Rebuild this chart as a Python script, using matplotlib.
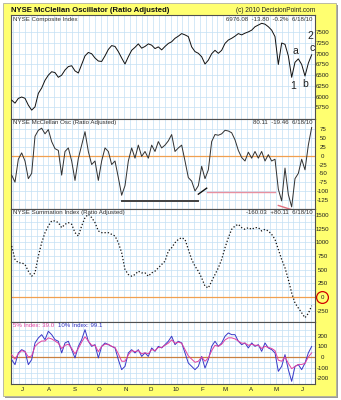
import numpy as np
import matplotlib
matplotlib.use("Agg")
import matplotlib.pyplot as plt
from matplotlib import font_manager
from matplotlib.patches import Rectangle

names = {f.name for f in font_manager.fontManager.ttflist}
FAM = 'Liberation Sans Narrow' if 'Liberation Sans Narrow' in names else 'Liberation Sans'
plt.rcParams['font.family'] = [FAM, 'DejaVu Sans']

# ---------------- data (sampled every 4 calendar days from 2009-06-22) ----------------
composite = [5918, 5847, 5958, 5990, 5960, 5800, 5684, 5760, 6075, 6200,
             6380, 6500, 6580, 6560, 6450, 6500, 6620, 6700, 6720, 6600,
             6550, 6750, 6950, 7030, 7000, 6900, 6830, 6820, 6950, 7100,
             7190, 7170, 7050, 6900, 6760, 6930, 7080, 7150, 7230, 7130,
             7170, 7230, 7200, 7120, 7160, 7090, 7170, 7240, 7280, 7360,
             7410, 7470, 7440, 7400, 7160, 7050, 7010, 6930, 6760, 6850,
             7000, 7080, 7010, 7080, 7240, 7320, 7360, 7410, 7470, 7440,
             7480, 7510, 7550, 7630, 7670, 7710, 7690, 7630, 7550, 7400,
             6750, 7250, 7220, 6950, 6450, 6800, 6880, 6750, 6480, 6780, 6976]

oscillator = [-55, -75, -10, 8, -15, -65, -50, 55, 72, 78,
              62, 74, 40, 20, 15, -55, 12, 22, -15, -70,
              -8, 30, 68, 12, -25, -15, -70, -15, 22, 12,
              -25, -15, -62, -112, -85, -15, 22, -7, 30, -2,
              12, -7, 30, 12, 40, 22, 30, 42, 60, 12,
              22, 30, -15, -62, -72, -100, -85, -30, -65, -40,
              40, 60, 58, 62, 72, 70, 65, 45, 15, -5,
              -15, 10, -7, 12, -7, 12, -15, 3, -15, -10,
              -95, -128, -35, -110, -145, -65, -50, -10, -40, 30, 80]

summation = [932, 687, 625, 625, 595, 472, 380, 441, 748, 993,
             1177, 1300, 1392, 1392, 1361, 1269, 1330, 1361, 1330, 1177,
             1116, 1300, 1453, 1514, 1453, 1361, 1208, 1177, 1177, 1177,
             1146, 1116, 993, 809, 503, 411, 380, 411, 472, 441,
             441, 380, 441, 472, 533, 595, 656, 840, 901, 993,
             1054, 1085, 1054, 870, 687, 564, 472, 349, 196, 166,
             288, 411, 533, 687, 901, 1085, 1238, 1300, 1330, 1269,
             1238, 1269, 1238, 1269, 1269, 1208, 1238, 1208, 1146, 1054,
             870, 687, 533, 319, 74, -110, -202, -290, -380, -300, -160]

index10 = [-25, -72, 38, 69, 53, -72, -25, 132, 179, 210,
           163, 242, 210, 163, 148, 38, 132, 148, 69, -9,
           100, 163, 257, 148, 100, 116, -9, 100, 132, 116,
           100, 85, -25, -119, -88, 38, 69, 38, 69, 6,
           38, 6, 85, 53, 100, 85, 116, 148, 195, 116,
           148, 132, 38, -57, -88, -119, -88, 6, -104, -25,
           100, 148, 100, 132, 195, 226, 210, 210, 148, 116,
           132, 85, 132, 100, 116, 53, 132, 85, 69, 38,
           -135, -88, 22, -119, -229, -88, -72, -119, -57, 38, 99]

index5 = [20, -20, 30, 60, 50, 0, 10, 100, 130, 150,
          150, 180, 170, 150, 130, 80, 110, 120, 80, 30,
          80, 140, 190, 150, 110, 110, 50, 100, 120, 120,
          100, 90, 30, -40, -40, 20, 60, 50, 60, 30,
          40, 30, 70, 60, 90, 90, 110, 130, 160, 130,
          140, 130, 70, 10, -20, -50, -40, 0, -40, -10,
          60, 110, 100, 120, 160, 180, 180, 170, 150, 130,
          130, 110, 120, 110, 110, 80, 100, 90, 80, 60,
          -30, -40, 0, -60, -110, -90, -70, -70, -60, 0, 39]

month_labels = ['J', 'A', 'S', 'O', 'N', 'D', '10', 'F', 'M', 'A', 'M', 'J']
month_start_days = [9, 40, 71, 101, 132, 162, 193, 224, 252, 283, 313, 344]  # days after 2009-06-22

days = np.linspace(0, 360, len(composite))

# ---------------- figure ----------------
W, H = 341, 400
fig = plt.figure(figsize=(W / 100, H / 100), dpi=100)
fig.patch.set_facecolor('white')

def fx(px):
    return px / W

def fy(py):
    return 1 - py / H

# yellow frame with shadow
fig.add_artist(Rectangle((fx(5), fy(398)), fx(333), 393 / H, transform=fig.transFigure,
                         facecolor='#9a9a9a', edgecolor='none', zorder=0))
fig.add_artist(Rectangle((fx(3), fy(396)), fx(333), 393 / H, transform=fig.transFigure,
                         facecolor='#ffff70', edgecolor='#b0b0a0', lw=0.6, zorder=0))

L, R = 11, 315
panels = [(15, 119), (119, 209), (209, 322), (322, 384)]
axes = []
for (t, b) in panels:
    ax = fig.add_axes([fx(L), fy(b), fx(R - L), (b - t) / H])
    axes.append(ax)
ax1, ax2, ax3, ax4 = axes

GRID = '#c4e0f4'
XMIN, XMAX = -0.8, 364
weeks = np.arange(2, 364, 7)
small = 4.4

for ax in axes:
    ax.set_facecolor('white')
    ax.set_xlim(XMIN, XMAX)
    ax.set_xticks([])
    for x in weeks:
        ax.axvline(x, color=GRID, lw=0.5, zorder=0)
    ax.yaxis.tick_right()
    ax.tick_params(axis='y', which='both', length=0, pad=5.6, labelsize=small, labelcolor='#202020')
    for s in ax.spines.values():
        s.set_color('#505050')
        s.set_linewidth(0.8)
    ax.tick_params(axis='x', which='both', length=0)

def hgrid(ax, vals):
    for v in vals:
        ax.axhline(v, color=GRID, lw=0.5, zorder=0)

def set_yticks(ax, ticks):
    ax.set_yticks(ticks)
    ax.set_yticklabels([str(t) for t in ticks], fontsize=small, ha='center')

def header(ax, left, right, y=0.985):
    ax.text(0.007, y, left, transform=ax.transAxes, fontsize=small,
            va='top', ha='left', color='#303030')
    ax.text(0.993, y, right, transform=ax.transAxes, fontsize=small,
            va='top', ha='right', color='#303030')

# panel 1
ax1.set_ylim(5477, 7904)
t1 = list(range(5750, 7501, 250))
set_yticks(ax1, t1)
hgrid(ax1, t1)
ax1.plot(days, composite, color='#101010', lw=0.7, zorder=3)
header(ax1, 'NYSE Composite Index', '6976.08  -13.80  -0.2%  6/18/10')
for txt, x, y in [('2', 358, 7414), ('c', 360.4, 7133), ('a', 340, 7063), ('1', 337.6, 6245), ('b', 352, 6292)]:
    ax1.text(x, y, txt, fontsize=7.5, ha='center', va='center', color='#202020',
             family=['Liberation Sans', 'DejaVu Sans'])

# panel 2
ax2.set_ylim(-151, 104)
t2 = list(range(-125, 76, 25))
set_yticks(ax2, t2)
hgrid(ax2, t2)
ax2.axhline(0, color='#f0a050', lw=0.9, zorder=2)
ax2.plot(days, oscillator, color='#303030', lw=0.7, zorder=3)
ax2.plot([132, 224], [-128, -128], color='#404040', lw=1.4, zorder=4)
ax2.plot([224, 234], [-109, -92], color='#101010', lw=1.0, zorder=4)
ax2.plot([234, 316], [-102, -102], color='#e890a0', lw=1.0, zorder=4)
ax2.plot([320, 336], [-141, -153], color='#e07080', lw=1.0, zorder=4)
header(ax2, 'NYSE McClellan Osc (Ratio Adjusted)', '80.11  -19.46  6/18/10')

# panel 3
ax3.set_ylim(-458, 1610)
t3 = list(range(-250, 1501, 250))
set_yticks(ax3, t3)
hgrid(ax3, t3 + [v + 125 for v in t3])
ax3.axhline(0, color='#f0a050', lw=0.9, zorder=2)
ax3.plot(days, summation, color='#101010', lw=0.9, ls=(0, (1, 1.6)), zorder=3)
header(ax3, 'NYSE Summation Index (Ratio Adjusted)', '-160.03  +80.11  6/18/10', y=0.99)
ax3.plot([1.023], [0], transform=ax3.get_yaxis_transform(), marker='o', ms=8.5, mfc='none',
         mec='#d00000', mew=0.9, clip_on=False, zorder=5)

# panel 4
ax4.set_ylim(-254, 329)
t4 = [-200, -100, 0, 100, 200]
set_yticks(ax4, t4)
hgrid(ax4, t4 + [-250, -150, -50, 50, 150, 250])
ax4.axhline(0, color='#c88040', lw=0.9, zorder=2)
ax4.plot(days, index10, color='#3838c8', lw=0.7, zorder=3)
ax4.plot(days, index5, color='#e040a0', lw=0.7, zorder=4)
ax4.text(0.007, 0.985, '5% Index: 39.0', transform=ax4.transAxes, fontsize=small,
         va='top', ha='left', color='#e040a0')
ax4.text(0.155, 0.985, '10% Index: 99.1', transform=ax4.transAxes, fontsize=small,
         va='top', ha='left', color='#3030c0')
ax4.set_xticks([d + 4.5 for d in month_start_days])
ax4.set_xticklabels(month_labels, fontsize=small, color='#202020')
ax4.tick_params(axis='x', which='major', length=0, pad=2.5)

# title
fig.text(fx(11), fy(10), 'NYSE McClellan Oscillator (Ratio Adjusted)', fontsize=5.6, fontweight='bold',
         ha='left', va='center', color='#101010')
fig.text(fx(315), fy(10), '(c) 2010 DecisionPoint.com', fontsize=4.7,
         ha='right', va='center', color='#202020')

fig.savefig('out.png', dpi=100)
